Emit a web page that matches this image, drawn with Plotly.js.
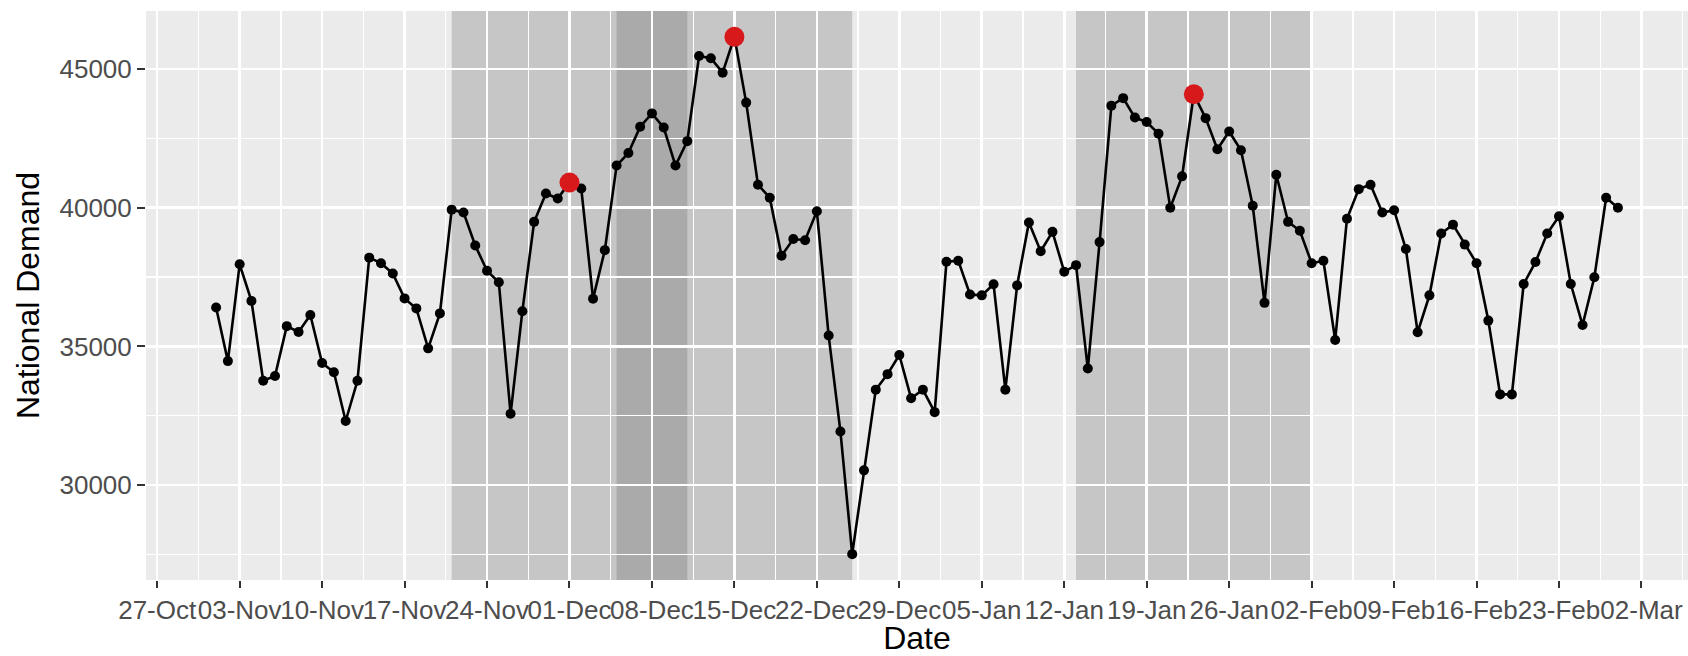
<!DOCTYPE html>
<html>
<head>
<meta charset="utf-8">
<script src="https://cdn.plot.ly/plotly-3.0.1.min.js"></script>
<style>html,body{margin:0;padding:0;background:#fff;}#chart{width:1688px;height:656px;}</style>
</head>
<body>
<div id="chart"></div>
<script>
// Daily national demand, 01-Nov to 28-Feb
const startDate = '2018-11-01';
const demandNov = [36400,34470,37960,36640,33760,33930,35730,35520,36130,34400,
                   34070,32310,33760,38200,38000,37630,36730,36370,34930,36190,
                   39930,39830,38640,37730,37310,32570,36270,39490,40510,40330];
const demandDec = [40910,40690,36720,38470,41520,41970,42920,43400,42890,41520,
                   42400,45470,45390,44870,46160,43790,40830,40360,38270,38870,
                   38830,39870,35390,31930,27510,30530,33440,34000,34690,33130,33440];
const demandJan = [32630,38050,38090,36870,36840,37240,33440,37200,39470,38430,
                   39130,37690,37930,34200,38760,43680,43950,43250,43090,42670,
                   40000,41130,44090,43230,42110,42750,42070,40070,36570,41190,39490];
const demandFeb = [39170,38000,38090,35230,39600,40670,40830,39830,39910,38510,
                   35510,36840,39070,39390,38670,38000,35930,33270,33270,37250,
                   38040,39070,39690,37250,35770,37490,40360,40000];

// Highlighted peaks
const peakDates = ['2018-12-01','2018-12-15','2019-01-23'];
const peakValues = [40910,46160,44090];

// Shaded windows
const shadeStart = ['2018-11-21','2018-12-05','2019-01-13'];
const shadeEnd   = ['2018-12-11','2018-12-25','2019-02-02'];

// Tick breaks
const tickStart = '2018-10-27';
const tickEnd = '2019-03-02';
const yTicks = [30000, 35000, 40000, 45000];
const yTickLabels = ['30000', '35000', '40000', '45000'];

const DAY = 86400000;
const values = [].concat(demandNov, demandDec, demandJan, demandFeb);
const t0 = Date.parse(startDate + 'T00:00:00Z');
const dates = values.map((v, i) => new Date(t0 + i * DAY).toISOString().slice(0, 10));

const tickVals = [], tickText = [];
const months = ['Jan','Feb','Mar','Apr','May','Jun','Jul','Aug','Sep','Oct','Nov','Dec'];
for (let t = Date.parse(tickStart + 'T00:00:00Z'); t <= Date.parse(tickEnd + 'T00:00:00Z'); t += 7 * DAY) {
  const d = new Date(t);
  tickVals.push(d.toISOString().slice(0, 10));
  tickText.push(String(d.getUTCDate()).padStart(2, '0') + '-' + months[d.getUTCMonth()]);
}

const xMin = t0, xMax = t0 + (values.length - 1) * DAY;
const xPad = (xMax - xMin) * 0.05;
const yMin = Math.min(...values), yMax = Math.max(...values);
const yPad = (yMax - yMin) * 0.05;
const iso = ms => new Date(ms).toISOString().replace('T', ' ').slice(0, 19);

const shapes = shadeStart.map((s, i) => ({
  type: 'rect', xref: 'x', yref: 'paper', x0: s, x1: shadeEnd[i], y0: 0, y1: 1,
  fillcolor: 'rgba(83,83,83,0.245)', line: {width: 0}, layer: 'between'
}));

const traces = [
  {x: dates, y: values, type: 'scatter', mode: 'lines+markers',
   line: {color: '#000000', width: 2.6}, marker: {color: '#000000', size: 10},
   hoverinfo: 'x+y', showlegend: false},
  {x: peakDates, y: peakValues, type: 'scatter', mode: 'markers',
   marker: {color: '#d7191c', size: 20}, showlegend: false}
];

const fam = 'Liberation Sans, Arial, sans-serif';
const axisFont = {family: fam, size: 26, color: '#4d4d4d'};
const layout = {
  width: 1688, height: 656,
  margin: {l: 146, r: 0, t: 11, b: 76},
  paper_bgcolor: '#ffffff', plot_bgcolor: '#ebebeb',
  font: {family: fam},
  showlegend: false,
  xaxis: {
    type: 'date', range: [iso(xMin - xPad), iso(xMax + xPad)],
    tickmode: 'array', tickvals: tickVals, ticktext: tickText, tickangle: 0,
    ticks: 'outside', ticklen: 7, tickwidth: 2, tickcolor: '#333333',
    tickfont: axisFont, showgrid: true, gridcolor: '#ffffff', gridwidth: 2.6,
    minor: {dtick: 7 * DAY, tick0: '2018-10-30 12:00', showgrid: true, gridcolor: '#ffffff', gridwidth: 1.3, ticks: ''},
    zeroline: false, showline: false, automargin: false,
    title: {text: 'Date', font: {family: fam, size: 32, color: '#000000'}, standoff: 10}
  },
  yaxis: {
    range: [yMin - yPad, yMax + yPad],
    tickmode: 'array', tickvals: yTicks, ticktext: yTickLabels,
    ticks: 'outside', ticklen: 8, tickwidth: 2, tickcolor: '#333333',
    tickfont: axisFont, showgrid: true, gridcolor: '#ffffff', gridwidth: 2.6,
    minor: {tickmode: 'array', tickvals: [27500, 32500, 37500, 42500, 47500], showgrid: true, gridcolor: '#ffffff', gridwidth: 1.3, ticks: ''},
    zeroline: false, showline: false, automargin: false,
    title: {text: 'National Demand', font: {family: fam, size: 32, color: '#000000'}, standoff: 10}
  },
  shapes: shapes
};

Plotly.newPlot('chart', traces, layout, {displayModeBar: false, staticPlot: true});
</script>
</body>
</html>
